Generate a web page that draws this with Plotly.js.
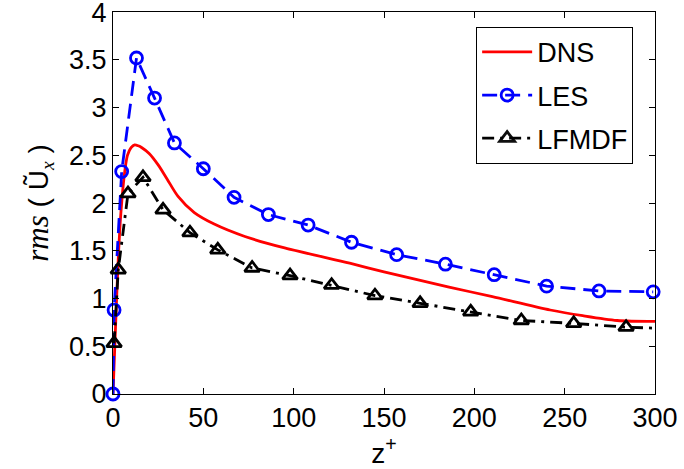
<!DOCTYPE html>
<html>
<head>
<meta charset="utf-8">
<script src="https://cdn.plot.ly/plotly-3.0.1.min.js"></script>
<style>html,body{margin:0;padding:0;background:#fff;}#chart{width:684px;height:469px;}</style>
</head>
<body>
<div id="chart"></div>
<script>
var dnsZ = [0, 1, 2, 3, 4, 5, 6, 7, 8, 10, 12, 14, 16, 20, 25, 30, 36, 45, 56, 73, 95, 131, 150, 186, 210, 242, 260, 279, 300];
var dnsV = [0, 0.5, 1.0, 1.45, 1.8, 2.05, 2.25, 2.4, 2.5, 2.58, 2.61, 2.6, 2.58, 2.52, 2.4, 2.25, 2.07, 1.9, 1.78, 1.65, 1.53, 1.37, 1.28, 1.12, 1.02, 0.88, 0.82, 0.77, 0.76];

var lesZ = [0, 0.6, 4.8, 13, 23, 34, 50, 67, 86, 108, 132, 157, 184, 211, 240, 269, 299];
var lesV = [0, 0.88, 2.33, 3.52, 3.1, 2.63, 2.36, 2.06, 1.88, 1.77, 1.59, 1.46, 1.36, 1.25, 1.13, 1.08, 1.07];

var lfZ = [0.6, 2.9, 8.3, 16.6, 27.7, 42.6, 58, 77, 98, 121, 145, 170, 198, 226, 255, 284, 300];
var lfV = [0.53, 1.3, 2.1, 2.27, 1.93, 1.69, 1.51, 1.32, 1.24, 1.14, 1.03, 0.95, 0.86, 0.77, 0.74, 0.7, 0.69];
var lfMarkerCount = 16;

var xTicks = [0, 50, 100, 150, 200, 250, 300];
var yTicks = [0, 0.5, 1, 1.5, 2, 2.5, 3, 3.5, 4];

var font = 'Liberation Sans, Arial, Helvetica, sans-serif';

var traces = [
  {
    x: dnsZ, y: dnsV, name: 'DNS', mode: 'lines', legendgroup: 'a',
    line: {color: '#ff0000', width: 2.8, shape: 'spline', smoothing: 0.8},
    cliponaxis: false
  },
  {
    x: lesZ, y: lesV, name: 'LES', mode: 'lines+markers', legendgroup: 'b',
    line: {color: '#0000ff', width: 2.8, dash: '15px,8px'},
    marker: {symbol: 'circle-open', size: 12, color: '#0000ff', line: {width: 2.8, color: '#0000ff'}},
    cliponaxis: false
  },
  {
    x: lfZ, y: lfV, name: 'LFMDF', mode: 'lines+markers', legendgroup: 'c',
    line: {color: '#000000', width: 2.8, dash: '12px,6px,3px,6px'},
    marker: {symbol: 'triangle-up-open', size: 13, color: '#000000', line: {width: 2.8, color: '#000000'},
             opacity: lfZ.map(function(z, i){ return i < lfMarkerCount ? 1 : 0; })},
    cliponaxis: false
  }
];

var layout = {
  width: 684, height: 469,
  margin: {l: 113, r: 29, t: 12, b: 75},
  paper_bgcolor: '#fff', plot_bgcolor: '#fff',
  font: {family: font, size: 27, color: '#000'},
  showlegend: true,
  legend: {
    x: 0.67, y: 0.961, xanchor: 'left', yanchor: 'top',
    bgcolor: '#fff', bordercolor: '#000', borderwidth: 1,
    font: {family: font, size: 27, color: '#000'},
    tracegroupgap: 5, itemwidth: 50
  },
  xaxis: {
    range: [0, 300], tickvals: xTicks, ticktext: xTicks.map(String),
    ticks: 'inside', ticklen: 6, tickcolor: '#000', tickwidth: 1,
    showline: true, linecolor: '#000', linewidth: 1, mirror: 'ticks',
    showgrid: false, zeroline: false, automargin: false,
    tickfont: {family: font, size: 27},
    title: {text: 'z<sup>+</sup>', font: {family: font, size: 28}, standoff: 2}
  },
  yaxis: {
    range: [0, 4.002], tickvals: yTicks, ticktext: yTicks.map(String),
    ticks: 'inside', ticklen: 6, tickcolor: '#000', tickwidth: 1,
    showline: true, linecolor: '#000', linewidth: 1, mirror: 'ticks',
    showgrid: false, zeroline: false, automargin: false,
    ticklabeloverflow: 'allow',
    tickfont: {family: font, size: 27},
    title: {text: '<i><span style="font-family:Liberation Serif, Times New Roman, serif;font-size:31px">rms</span></i> ( Ũ<sub><i><span style="font-family:Liberation Serif, serif">x</span></i></sub> )', font: {family: font, size: 28}, standoff: 12}
  }
};

Plotly.newPlot('chart', traces, layout, {displayModeBar: false, staticPlot: true});
</script>
</body>
</html>
